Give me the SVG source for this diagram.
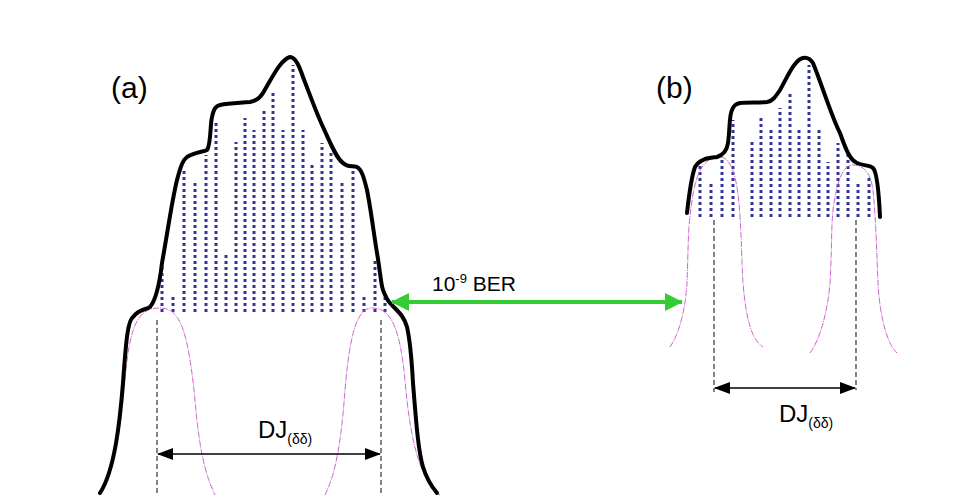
<svg xmlns="http://www.w3.org/2000/svg" width="964" height="502" viewBox="0 0 964 502">
<defs>
<marker id="ah" markerWidth="16" markerHeight="12" refX="15" refY="6" orient="auto-start-reverse" markerUnits="userSpaceOnUse"><path d="M0,0 L16,6 L0,12 Z" fill="#000"/></marker>
<marker id="gh" markerWidth="18" markerHeight="18" refX="17" refY="9" orient="auto-start-reverse" markerUnits="userSpaceOnUse"><path d="M0,0 L18,9 L0,18 Z" fill="#33cc33"/></marker>
</defs>
<style>
.out{fill:none;stroke:#000;stroke-width:4;stroke-linejoin:round;stroke-linecap:round}
.bar{stroke:#33339a;stroke-width:3;stroke-dasharray:3 3}
.g{fill:none;stroke:#cc66cc;stroke-width:1;stroke-dasharray:6 1 1 1}
.dash{stroke:#333;stroke-width:1.2;stroke-dasharray:5 3}
.arr{stroke:#000;stroke-width:1.5;marker-start:url(#ah);marker-end:url(#ah)}
text{font-family:"Liberation Sans",Arial,sans-serif;fill:#000}
</style>
<rect width="964" height="502" fill="#fff"/>
<g id="panel-a">
<g id="bars-a">
<path class="bar" d="M162,312V267M173,312V297M184,312V168M195,312V183M206,312V155M216,312V120M226,312V252M236,312V142M245,312V118M254,312V130M264,312V108M273,312V92M283,312V130M293,312V65M303,312V130M312,312V162M322,312V143M331,312V153M342,312V183M353,312V168M364,312V297M375,312V260M385,312V297"/>
</g>
<path class="g" d="M100,493 C115,470 120,430 125,380 C130,320 140,308 160,308 C180,308 188,330 195,400 C200,460 208,480 215,495"/>
<path class="g" d="M325,495 C332,480 340,460 345,390 C350,330 358,308 372,308 C392,308 400,330 405,380 C410,440 420,480 440,495"/>
<path class="out" d="M100,493 C115,470 120,420 123,383 C126,340 128,320 133,317 C140,308 146,310 150,307 C156,300 160,280 162,263 C168,230 172,200 177,180 C181,165 183,160 187,157 C195,152 203,152 207,150 C211,145 210,125 212,117 C214,108 216,106 220,105 C230,103 240,103 250,102 C256,101 260,98 263,93 C272,78 280,60 290,57 C296,57 300,68 303,77 C310,95 316,112 323,127 C330,142 336,158 343,163 C348,168 353,165 357,167 C362,170 364,178 367,190 C371,210 374,235 377,253 C380,270 381,285 383,290 C386,298 388,301 390,303 C396,310 404,315 407,327 C410,340 412,365 413,383 C416,420 418,450 423,467 C427,480 432,487 437,493"/>
<line class="dash" x1="157" y1="320" x2="157" y2="493"/>
<line class="dash" x1="381" y1="320" x2="381" y2="493"/>
<line class="arr" x1="158" y1="454" x2="380" y2="454"/>
<text x="258" y="438" font-size="24">DJ<tspan font-size="14" dy="6">(δδ)</tspan></text>
<text x="111" y="98" font-size="30">(a)</text>
</g>
<g id="panel-b">
<g id="bars-b">
<path class="bar" d="M700,217V163M711,217V183M722,217V157M733,217V120M752,217V142M761,217V118M771,217V130M780,217V108M790,217V93M799,217V130M809,217V65M819,217V130M828,217V162M838,217V143M848,217V152M858,217V183M869,217V175"/>
</g>
<path class="g" d="M670,347 C682,330 686,300 687,283 C688,260 688,230 690,217 C694,175 702,157 720,157 C732,157 738,180 740,217 C742,250 742,270 743,283 C746,320 752,340 763,347"/>
<path class="g" d="M810,353 C820,340 828,310 830,283 C832,250 831,230 833,210 C837,180 843,165 853,165 C865,165 871,175 873,190 C876,220 877,260 878,283 C880,320 888,345 897,353"/>
<path class="out" d="M687,213 C689,195 691,178 695,167 C700,158 710,158 717,157 C723,155 727,150 728,143 C730,130 729,115 732,110 C734,105 736,104 740,103 C750,102 758,103 767,102 C773,101 776,96 780,90 C787,78 794,60 803,58 C808,57 811,60 813,63 C822,85 832,118 840,133 C846,150 850,160 857,163 C864,166 870,165 873,168 C877,172 879,195 880,217"/>
<line class="dash" x1="714" y1="220" x2="714" y2="392"/>
<line class="dash" x1="856" y1="220" x2="856" y2="390"/>
<line class="arr" x1="715" y1="388" x2="855" y2="388"/>
<text x="779" y="422" font-size="24">DJ<tspan font-size="14" dy="6">(δδ)</tspan></text>
<text x="656" y="98" font-size="30">(b)</text>
</g>
<g id="connectors">
<line x1="392" y1="302" x2="682" y2="302" stroke="#33cc33" stroke-width="4" marker-start="url(#gh)" marker-end="url(#gh)"/>
<text x="432" y="291" font-size="21">10<tspan font-size="13" dy="-8">-9</tspan><tspan dy="8"> BER</tspan></text>
</g>
</svg>
